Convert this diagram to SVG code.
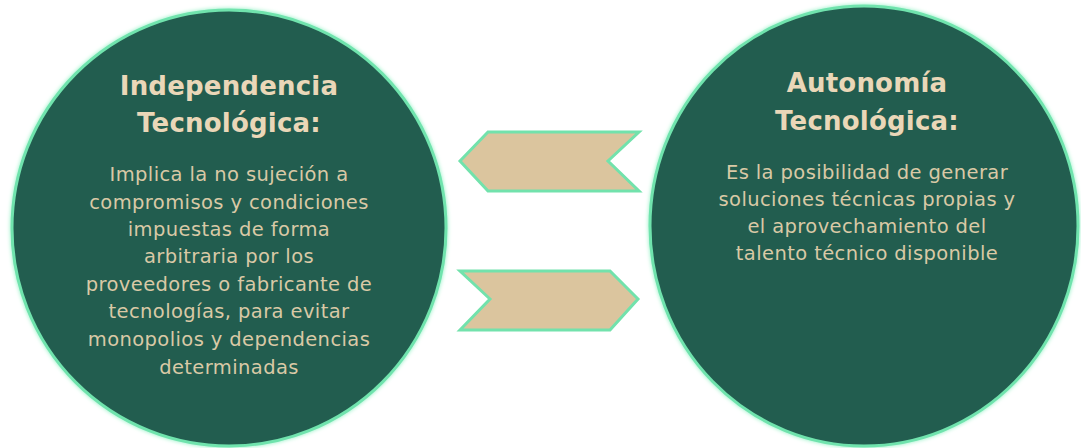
<svg xmlns="http://www.w3.org/2000/svg" width="1081" height="448" viewBox="0 0 1081 448">
<defs>
<style>
.circ{fill:#235d4f;stroke:#6fe3ad;stroke-width:3}
.arrow{fill:#dbc59e;stroke:#72e2ac;stroke-width:3;stroke-linejoin:miter}
.title{font-family:"DejaVu Sans",sans-serif;font-weight:bold;font-size:26px;letter-spacing:0.2px;fill:#ead7b8;text-anchor:middle}
.body{font-family:"DejaVu Sans",sans-serif;font-size:19.5px;letter-spacing:0.4px;fill:#d9c9a6;text-anchor:middle}
</style>
<filter id="glow" x="-10%" y="-10%" width="120%" height="120%">
<feGaussianBlur in="SourceAlpha" stdDeviation="2" result="b"/>
<feFlood flood-color="#8af0c0"/>
<feComposite in2="b" operator="in" result="g"/>
<feMerge><feMergeNode in="g"/><feMergeNode in="SourceGraphic"/></feMerge>
</filter>
</defs>
<rect width="1081" height="448" fill="#ffffff"/>
<g id="node-independencia">
<ellipse class="circ" cx="229" cy="228" rx="217" ry="218" filter="url(#glow)"/>
<text class="title" x="229" y="95">Independencia</text>
<text class="title" x="229" y="132">Tecnológica:</text>
<text class="body" x="229" y="181">Implica la no sujeción a</text>
<text class="body" x="229" y="209">compromisos y condiciones</text>
<text class="body" x="229" y="236">impuestas de forma</text>
<text class="body" x="229" y="263">arbitraria por los</text>
<text class="body" x="229" y="291">proveedores o fabricante de</text>
<text class="body" x="229" y="318">tecnologías, para evitar</text>
<text class="body" x="229" y="346">monopolios y dependencias</text>
<text class="body" x="229" y="374">determinadas</text>
</g>
<g id="node-autonomia">
<ellipse class="circ" cx="864" cy="226" rx="214" ry="220" filter="url(#glow)"/>
<text class="title" x="867" y="92">Autonomía</text>
<text class="title" x="867" y="130">Tecnológica:</text>
<text class="body" x="867" y="179">Es la posibilidad de generar</text>
<text class="body" x="867" y="206">soluciones técnicas propias y</text>
<text class="body" x="867" y="233">el aprovechamiento del</text>
<text class="body" x="867" y="260">talento técnico disponible</text>
</g>
<g id="connectors">
<polygon class="arrow" points="460,161 488,132 639,132 608,161 639,191 488,191"/>
<polygon class="arrow" points="460,271 610,271 638,299 610,330 460,330 490,299"/>
</g>
</svg>
